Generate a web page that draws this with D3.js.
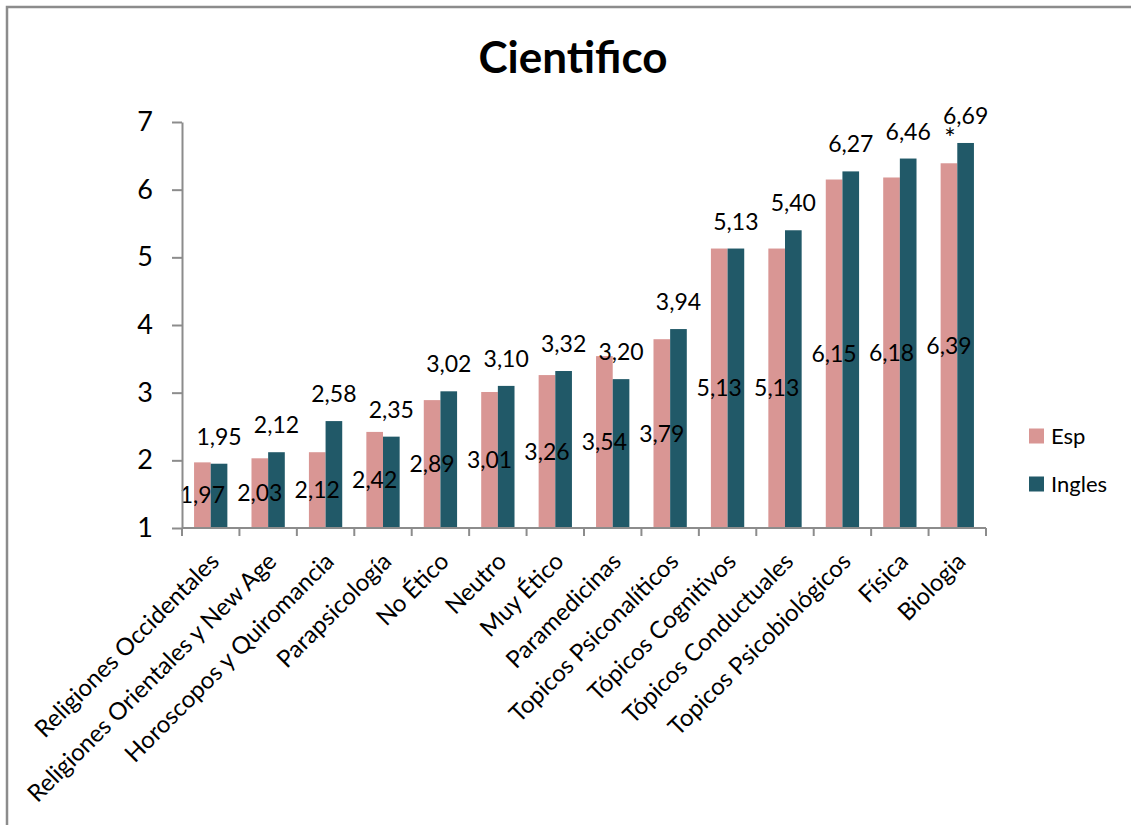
<!DOCTYPE html>
<html><head><meta charset="utf-8">
<script src="https://cdn.jsdelivr.net/npm/d3@7"></script>
<style>body{margin:0;background:#fff}svg{display:block}text{font-family:Lato,"Open Sans",sans-serif}</style>
</head><body><svg id="c" width="1131" height="825"></svg>
<script>
const categories = ["Religiones Occidentales","Religiones Orientales y New Age","Horoscopos y Quiromancia","Parapsicología","No Ético","Neutro","Muy Ético","Paramedicinas","Topicos Psiconalíticos","Tópicos Cognitivos","Tópicos Conductuales","Topicos Psicobiológicos","Física","Biologia"];
const esp = [1.97,2.03,2.12,2.42,2.89,3.01,3.26,3.54,3.79,5.13,5.13,6.15,6.18,6.39];
const ingles = [1.95,2.12,2.58,2.35,3.02,3.10,3.32,3.20,3.94,5.13,5.40,6.27,6.46,6.69];
const seriesNames = ["Esp","Ingles"];
const yTicks = [1,2,3,4,5,6,7];
const title = "Cientifico";
const colors = ["#D99694","#215968"];

const svg = d3.select("#c");
// outer border
svg.append("path").attr("d","M7,825 V7 H1131").attr("fill","none").attr("stroke","#8c8c8c").attr("stroke-width",2.5);

const x0 = 182, x1 = 986, yTop = 122, yBot = 528;
const x = d3.scaleBand().domain(categories).range([x0,x1]).paddingInner(0).paddingOuter(0);
const y = d3.scaleLinear().domain([1,7]).range([yBot,yTop]);
const bw = x.bandwidth()*0.29;
const fmt = v => v.toFixed(2).replace(".",",");

// bars
categories.forEach((c,i)=>{
  const cx = x(c)+x.bandwidth()/2;
  svg.append("rect").attr("x",cx-bw).attr("width",bw).attr("y",y(esp[i])).attr("height",y(1)-y(esp[i])).attr("fill",colors[0]);
  svg.append("rect").attr("x",cx).attr("width",bw).attr("y",y(ingles[i])).attr("height",y(1)-y(ingles[i])).attr("fill",colors[1]);
  // labels
  svg.append("text").attr("x",cx-bw/2).attr("y",(y(1)+y(esp[i]))/2).attr("dy","0.35em").attr("text-anchor","middle").attr("font-size",23).attr("fill","#000").text(fmt(esp[i]));
  svg.append("text").attr("x",cx+bw/2).attr("y",y(ingles[i])-27).attr("dy","0.35em").attr("text-anchor","middle").attr("font-size",23).attr("fill","#000").text(fmt(ingles[i]));
});
// asterisk
const lastC = categories[categories.length-1];
svg.append("text").attr("x",x(lastC)+x.bandwidth()/2-bw/2+1).attr("y",y(esp[esp.length-1])-34).attr("dy","0.7em").attr("text-anchor","middle").attr("font-size",27).text("*");

// y axis
const yAxis = d3.axisLeft(y).tickValues(yTicks).tickSize(10).tickSizeOuter(0).tickFormat(d=>d);
const gy = svg.append("g").attr("transform",`translate(${x0},0)`).call(yAxis);
gy.select(".domain").attr("stroke","#8c8c8c").attr("stroke-width",2);
gy.selectAll(".tick line").attr("stroke","#8c8c8c").attr("stroke-width",2);
gy.selectAll(".tick text").attr("font-size",27).attr("font-family","Lato, sans-serif").attr("fill","#000").attr("x",-29);

// x axis
const gx = svg.append("g").attr("transform",`translate(0,${yBot})`);
gx.append("line").attr("x1",x0).attr("x2",x1).attr("stroke","#8c8c8c").attr("stroke-width",2);
const bounds = categories.map(c=>x(c)).concat([x1]);
gx.selectAll("line.t").data(bounds).enter().append("line").attr("x1",d=>d).attr("x2",d=>d).attr("y1",0).attr("y2",8).attr("stroke","#8c8c8c").attr("stroke-width",2);
gx.selectAll("text").data(categories).enter().append("text")
  .attr("transform",d=>`translate(${x(d)+x.bandwidth()/2+4},${29}) rotate(-45)`)
  .attr("text-anchor","end").attr("font-size",24).attr("dy","0.35em").text(d=>d);

// title
svg.append("text").attr("x",573).attr("y",73).attr("text-anchor","middle").attr("font-size",44).attr("font-weight","bold").text(title);

// legend
seriesNames.forEach((s,i)=>{
  const ly = 436 + i*48;
  svg.append("rect").attr("x",1029).attr("y",ly-7.5).attr("width",15).attr("height",15).attr("fill",colors[i]);
  svg.append("text").attr("x",1051).attr("y",ly).attr("dy","0.35em").attr("font-size",22).text(s);
});
</script></body></html>
